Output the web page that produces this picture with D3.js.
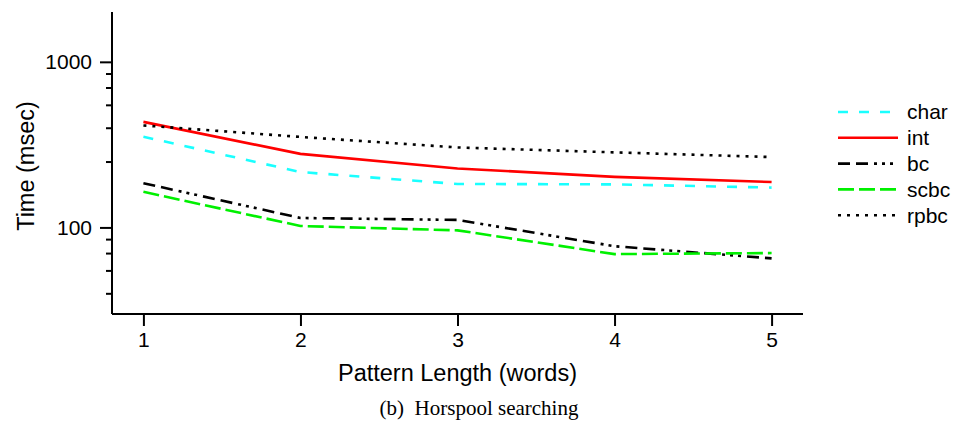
<!DOCTYPE html>
<html>
<head>
<meta charset="utf-8">
<script src="https://cdn.jsdelivr.net/npm/d3@7"></script>
<style>
  html, body { margin: 0; padding: 0; background: #fff; }
  svg { display: block; }
  text { font-family: "Liberation Sans", Arial, Helvetica, sans-serif; fill: #000; }
</style>
</head>
<body>
<svg id="chart" width="956" height="436"></svg>
<script>
// Pattern lengths (words)
const patternLengths = [1, 2, 3, 4, 5];

// Search times (msec) per representation
const charTimes = [353, 216, 183, 182, 174];
const intTimes  = [434, 278, 227, 202, 188];
const bcTimes   = [185, 114, 111, 77, 65];
const scbcTimes = [164, 102, 96, 69, 70];
const rpbcTimes = [413, 352, 304, 284, 266];

const seriesNames = ["char", "int", "bc", "scbc", "rpbc"];

// Axis ticks
const xTicks = [1, 2, 3, 4, 5];
const yMajorTicks = [100, 1000];
const yMinorTicks = [40, 55, 70, 85, 250, 400, 550, 700, 850];

const series = [
  { name: seriesNames[0], values: charTimes, color: "#1affff", dash: "10,11" },
  { name: seriesNames[1], values: intTimes,  color: "#ff0000", dash: null },
  { name: seriesNames[2], values: bcTimes,   color: "#000000", dash: "12,6,12,6,3,5,3,5,3,6" },
  { name: seriesNames[3], values: scbcTimes, color: "#00f000", dash: "16,5" },
  { name: seriesNames[4], values: rpbcTimes, color: "#000000", dash: "3,6" }
];

const svg = d3.select("#chart");

const plotLeft = 112, plotRight = 803, plotTop = 12, plotBottom = 314;

const x = d3.scaleLinear().domain([0.8, 5.2]).range([plotLeft, plotRight]);
const y = d3.scaleLog().domain([30, 2000]).range([plotBottom, plotTop]);

// Series lines
const line = d3.line()
  .x((d, i) => x(patternLengths[i]))
  .y(d => y(d));

svg.append("g").selectAll("path")
  .data(series)
  .join("path")
  .attr("d", d => line(d.values))
  .attr("fill", "none")
  .attr("stroke", d => d.color)
  .attr("stroke-width", 2.6)
  .attr("stroke-dasharray", d => d.dash)
  .attr("stroke-linejoin", "round");

// Y axis: labelled decades plus minor ticks
const yAxis = svg.append("g").attr("transform", `translate(${plotLeft},0)`);
yAxis.call(d3.axisLeft(y).tickValues(yMajorTicks).tickFormat(d3.format("d"))
  .tickSize(12).tickSizeOuter(0).tickPadding(8));
yAxis.select(".domain").attr("d", `M0,${plotTop}V${plotBottom}`);
yAxis.selectAll("text").style("font-size", "21px");
yAxis.append("g").call(d3.axisLeft(y).tickValues(yMinorTicks).tickFormat("")
  .tickSize(6).tickSizeOuter(0))
  .select(".domain").remove();
yAxis.selectAll("line, path").attr("stroke", "#000").attr("stroke-width", 2);

// X axis
const xAxis = svg.append("g").attr("transform", `translate(0,${plotBottom})`);
xAxis.call(d3.axisBottom(x).tickValues(xTicks).tickFormat(d3.format("d"))
  .tickSize(12).tickSizeOuter(0).tickPadding(6));
xAxis.selectAll("text").style("font-size", "21px");
xAxis.selectAll("line, path").attr("stroke", "#000").attr("stroke-width", 2);
xAxis.select(".domain").attr("d", `M${plotLeft},0H${plotRight}`);

// Axis titles
svg.append("text")
  .attr("transform", "translate(34,166) rotate(-90)")
  .attr("text-anchor", "middle")
  .style("font-size", "23.5px")
  .text("Time (msec)");

svg.append("text")
  .attr("x", x(3))
  .attr("y", 381)
  .attr("text-anchor", "middle")
  .style("font-size", "23.5px")
  .text("Pattern Length (words)");

// Caption
svg.append("text")
  .attr("x", 479)
  .attr("y", 415)
  .attr("text-anchor", "middle")
  .style("font-family", "'Liberation Serif', 'Times New Roman', serif")
  .style("font-size", "21px")
  .attr("xml:space", "preserve")
  .text("(b)  Horspool searching");

// Legend
const legend = svg.append("g");
const legendRows = legend.selectAll("g")
  .data(series)
  .join("g")
  .attr("transform", (d, i) => `translate(838,${112 + i * 25.8})`);
legendRows.append("line")
  .attr("x1", 0).attr("x2", 60)
  .attr("stroke", d => d.color)
  .attr("stroke-width", 2.6)
  .attr("stroke-dasharray", d => d.dash);
legendRows.append("text")
  .attr("x", 69)
  .attr("dy", "0.35em")
  .style("font-size", "21px")
  .text(d => d.name);
</script>
</body>
</html>
